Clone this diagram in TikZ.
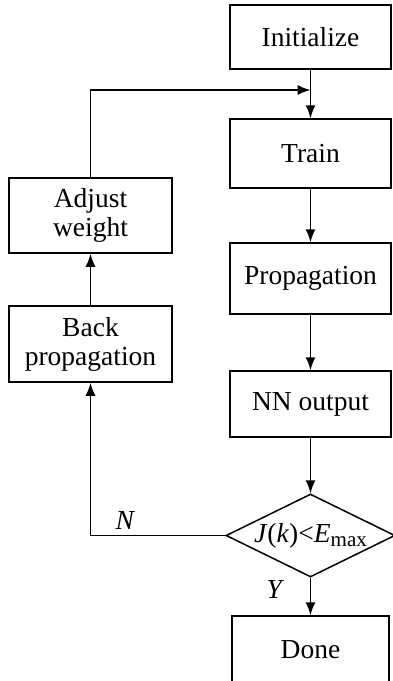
\documentclass[tikz,border=0pt]{standalone}
\usepackage{fontspec}
\setmainfont{Liberation Serif}
\usetikzlibrary{shapes.geometric,arrows.meta}

\begin{document}
\begin{tikzpicture}[x=1pt, y=1pt, line width=1.5pt,
  font=\fontsize{27.5}{29}\selectfont,
  box/.style={draw, rectangle, inner sep=0pt, align=center},
  test/.style={draw, diamond, inner sep=0pt, aspect=2.04, minimum width=169pt, minimum height=83pt},
  >={Latex[length=13pt, width=10pt]}]
\useasboundingbox (0,0) rectangle (393,-681);
\node[box, minimum width=161pt, minimum height=64pt] (I) at (310.5,-37) {Initialize};
\node[box, minimum width=161pt, minimum height=69pt] (T) at (310.5,-153.5) {Train};
\node[box, minimum width=161pt, minimum height=71pt] (P) at (310.5,-278.5) {Propagation};
\node[box, minimum width=161pt, minimum height=66pt] (O) at (310.5,-404) {NN output};
\node[test] (J) at (310.5,-535.5) {\textit{J}(\textit{k})<\textit{E}\raisebox{-0.35ex}{\fontsize{21}{21}\selectfont max}};
\node[box, minimum width=157pt, minimum height=68pt] (D) at (310.5,-650) {Done};
\node[box, minimum width=163pt, minimum height=75pt] (A) at (90.5,-215.5) {Adjust\\weight};
\node[box, minimum width=163pt, minimum height=76pt] (B) at (90.5,-344) {Back\\propagation};
\coordinate (M) at (310.5,-90);
\draw[->] (I) -- (T);
\draw[->] (T) -- (P);
\draw[->] (P) -- (O);
\draw[->] (O) -- (J);
\draw[->] (J) -- (D) node[pos=0.3, left=22pt] {\textit{Y}};
\draw[->] (J.west) -| (B.south) node[pos=0.37, above=2pt] {\textit{N}};
\draw[->] (B) -- (A);
\draw[->] (A.north) |- (M);
\end{tikzpicture}
\end{document}
